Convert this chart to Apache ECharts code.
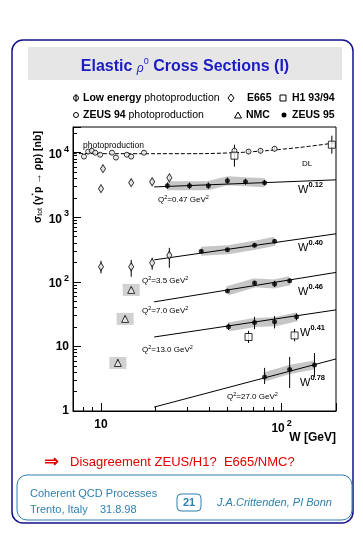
<!DOCTYPE html>
<html><head><meta charset="utf-8">
<script src="https://cdn.jsdelivr.net/npm/echarts@6/dist/echarts.min.js"></script>
<style>html,body{margin:0;padding:0;background:#fff}#c{width:363px;height:535px}</style>
</head><body><div id="c"></div>
<script>
// ---------------- data ----------------
// Low energy photoproduction
const lowW     = [8.05, 8.5, 8.9, 9.3, 9.9, 11.5, 12.1, 13.9, 14.7, 17.3];
const lowSigma = [8700, 10400, 10700, 10000, 9300, 10000, 8400, 9300, 8700, 10000];
const lowLo    = [8100, 9700, 10000, 9300, 8700, 9400, 7700, 8700, 8100, 9400];
const lowHi    = [9300, 11100, 11400, 10700, 9900, 10600, 9100, 9900, 9300, 10600];
// ZEUS 94 photoproduction
const z94W     = [54.8, 65.6, 76.4, 91.4];
const z94Sigma = [10700, 10400, 10700, 11500];
const z94Lo    = [9700, 9500, 9800, 10500];
const z94Hi    = [11800, 11400, 11700, 12600];
// H1 93/94
const h1W      = [54.8, 189.7, 65.6, 118];
const h1Sigma  = [8990, 13300, 14.0, 14.8];
const h1Lo     = [6070, 9650, 11.3, 12.0];
const h1Hi     = [13300, 18350, 17.4, 18.7];
// E665
const e665W     = [10.26, 10, 14.7, 19.2, 23.9, 10, 14.7, 19.2, 23.9];
const e665Sigma = [5650, 2770, 3430, 3550, 4090, 171, 171, 197, 258];
const e665Lo    = [5300, 2600, 3200, 3350, 3800, 135, 120, 154, 165];
const e665Hi    = [6000, 2950, 3650, 3750, 4400, 212, 219, 236, 336];
// NMC
const nmcW     = [14.7, 13.6, 12.4];
const nmcSigma = [75.1, 26.7, 5.55];
const nmcLo    = [68, 24.2, 4.9];
const nmcHi    = [83, 29.4, 6.3];
// ZEUS 95, one list per Q^2 bin
const z95W_047 = [23.3, 30.9, 39.3, 50.1, 63.1, 80.5];
const z95S_047 = [3080, 3080, 3080, 3680, 3550, 3430];
const z95L_047 = [2750, 2750, 2750, 3300, 3200, 3100];
const z95H_047 = [3450, 3450, 3450, 4100, 3950, 3800];
const z95W_35  = [35.9, 50.1, 70.8, 91.4];
const z95S_35  = [297, 313, 368, 425];
const z95L_35  = [280, 295, 345, 395];
const z95H_35  = [315, 332, 392, 460];
const z95W_7   = [50.1, 70.8, 91.4, 110.8];
const z95S_7   = [72.4, 96.4, 93, 104];
const z95L_7   = [69, 90, 83, 96];
const z95H_7   = [76, 103, 104, 113];
const z95W_13  = [50.8, 70.8, 91.4, 121];
const z95S_13  = [20.1, 23.5, 24.0, 28.7];
const z95L_13  = [18.0, 18.5, 19.0, 25.5];
const z95H_13  = [22.5, 28.7, 29.5, 32.5];
const z95W_27  = [80.5, 110.8, 152];
const z95S_27  = [3.37, 4.40, 5.17];
const z95L_27  = [2.62, 2.27, 3.37];
const z95H_27  = [4.65, 6.88, 7.9];
// Donnachie-Landshoff photoproduction curve
const dlW     = [7, 15, 30, 50, 70, 100, 150, 200];
const dlSigma = [9700, 9650, 9650, 9900, 10400, 11300, 12800, 14300];
// Power-law fits W^delta (end points)
const fitW     = [19.7, 200];
const fit047   = [2950, 3800];
const fit35    = [219, 555];
const fit7     = [49, 140];
const fit13    = [14.0, 36.8];
const fit27    = [1.15, 6.4];
// axis
const xMin = 7, xMax = 200, yMin = 1, yMax = 25000;

// ---------------- chart ----------------
const FF = '"Liberation Sans", Arial, Helvetica, sans-serif';
const chart = echarts.init(document.getElementById('c'), null, {renderer: 'canvas'});
const pts = (W, S) => W.map((w, i) => [w, S[i]]);
const err = (W, L, H) => W.map((w, i) => [w, L[i], H[i]]);

function errSeries(data) {
  return {
    type: 'custom', z: 4, silent: true,
    renderItem: function (params, api) {
      const a = api.coord([api.value(0), api.value(1)]);
      const b = api.coord([api.value(0), api.value(2)]);
      return {type: 'line', shape: {x1: a[0], y1: a[1], x2: b[0], y2: b[1]},
              style: {stroke: '#000', lineWidth: 1}};
    },
    data: data
  };
}
function fitLine(S) {
  return {type: 'line', data: pts(fitW, S), symbol: 'none', z: 3, silent: true,
          lineStyle: {color: '#000', width: 1}};
}
function band(W, S) {
  return {type: 'line', data: pts(W, S), symbol: 'none', z: 1, silent: true,
          lineStyle: {color: '#c6c6c6', width: 9, cap: 'butt'}};
}
function openSym(data, symbol, size) {
  return {type: 'scatter', data: data, symbol: symbol, symbolSize: size, z: 6, silent: true,
          itemStyle: {color: '#fff', borderColor: '#000', borderWidth: 1}};
}
function fmt(v) {
  if (Math.abs(v - 1) < 1e-9) return '{b|1}';
  if (Math.abs(v - 10) < 1e-9) return '{b|10}';
  const e = Math.round(Math.log10(v));
  return '{b|10}{s|' + e + '}';
}
const labelRich = {
  b: {fontSize: 12, fontWeight: 'bold', fontFamily: FF, color: '#000', verticalAlign: 'bottom'},
  s: {fontSize: 9, fontWeight: 'bold', fontFamily: FF, color: '#000', verticalAlign: 'bottom', padding: [0, 0, 7, 2]}
};

const z95All = [
  [z95W_047, z95S_047, z95L_047, z95H_047],
  [z95W_35, z95S_35, z95L_35, z95H_35],
  [z95W_7, z95S_7, z95L_7, z95H_7],
  [z95W_13, z95S_13, z95L_13, z95H_13],
  [z95W_27, z95S_27, z95L_27, z95H_27]
];
let z95Points = [], z95Err = [];
z95All.forEach(g => { z95Points = z95Points.concat(pts(g[0], g[1])); z95Err = z95Err.concat(err(g[0], g[2], g[3])); });

const series = [];
z95All.forEach(g => series.push(band(g[0], g[1])));
series.push({type: 'scatter', data: pts(nmcW, nmcSigma), symbol: 'rect', symbolSize: [17, 12], z: 1, silent: true,
             itemStyle: {color: '#c6c6c6'}});
series.push({type: 'line', data: pts(dlW, dlSigma), symbol: 'none', smooth: true, z: 3, silent: true,
             lineStyle: {color: '#000', width: 1, type: [4, 2]}});
[fit047, fit35, fit7, fit13, fit27].forEach(f => series.push(fitLine(f)));
series.push(errSeries(err(lowW, lowLo, lowHi)));
series.push(errSeries(err(z94W, z94Lo, z94Hi)));
series.push(errSeries(err(h1W, h1Lo, h1Hi)));
series.push(errSeries(err(e665W, e665Lo, e665Hi)));
series.push(errSeries(err(nmcW, nmcLo, nmcHi)));
series.push(errSeries(z95Err));
series.push(openSym(pts(lowW, lowSigma), 'circle', 5));
series.push(openSym(pts(z94W, z94Sigma), 'circle', 5));
series.push(openSym(pts(h1W, h1Sigma), 'rect', 7));
series.push(openSym(pts(e665W, e665Sigma), 'diamond', [5, 8]));
series.push(openSym(pts(nmcW, nmcSigma), 'triangle', [7, 7]));
series.push({type: 'scatter', data: z95Points, symbol: 'circle', symbolSize: 5, z: 7, silent: true,
             itemStyle: {color: '#000'}});

// text annotations & slide decoration
const T = (x, y, text, opt) => Object.assign({type: 'text', x: x, y: y, silent: true,
  style: Object.assign({text: text, fontFamily: FF, fontSize: 10.5, fill: '#000', align: 'left', verticalAlign: 'middle'}, opt || {})});
const blue = '#12128c', teal = '#2f7fae', titleBlue = '#1c1cc4';
const wLab = (x, y, e) => T(x, y, '{w|W}{e|' + e + '}', {rich: {
  w: {fontSize: 11, fontFamily: FF, verticalAlign: 'bottom'},
  e: {fontSize: 7.5, fontWeight: 'bold', fontFamily: FF, verticalAlign: 'bottom', padding: [0, 0, 6, 0]}}});
const qLab = (x, y, q) => T(x, y, '{a|Q}{s|2}{a|=' + q + ' GeV}{s|2}', {rich: {
  a: {fontSize: 8, fontFamily: FF, verticalAlign: 'bottom'},
  s: {fontSize: 5.5, fontFamily: FF, verticalAlign: 'bottom', padding: [0, 0, 4, 0]}}});

const graphic = [
  {type: 'rect', shape: {x: 12, y: 40, width: 341, height: 483, r: 11}, silent: true, z: -10,
   style: {fill: 'none', stroke: blue, lineWidth: 1.5}},
  {type: 'rect', shape: {x: 28, y: 47, width: 314, height: 33}, silent: true, z: -9,
   style: {fill: '#e6e6e6'}},
  T(185, 66, '{t|Elastic }{r|ρ}{z|0}{t| Cross Sections (I)}', {align: 'center', rich: {
    t: {fontSize: 16, fontWeight: 'bold', fontFamily: FF, fill: titleBlue, verticalAlign: 'bottom'},
    r: {fontSize: 12, fontStyle: 'italic', fontFamily: FF, fill: titleBlue, verticalAlign: 'bottom'},
    z: {fontSize: 9, fontFamily: FF, fill: titleBlue, verticalAlign: 'bottom', padding: [0, 0, 9, 0]}}}),
  // legend row 1
  {type: 'circle', shape: {cx: 76, cy: 98, r: 2.5}, style: {fill: '#fff', stroke: '#000', lineWidth: 1}},
  {type: 'line', shape: {x1: 76, y1: 94, x2: 76, y2: 102}, style: {stroke: '#000', lineWidth: 1}},
  T(83, 98, '{b|Low energy} photoproduction', {rich: {b: {fontWeight: 'bold', fontSize: 10.5, fontFamily: FF}}}),
  {type: 'polygon', shape: {points: [[231, 94], [234, 98], [231, 102], [228, 98]]}, style: {fill: '#fff', stroke: '#000', lineWidth: 1}},
  T(247, 98, 'E665', {fontWeight: 'bold'}),
  {type: 'rect', shape: {x: 280, y: 95, width: 6, height: 6}, style: {fill: '#fff', stroke: '#000', lineWidth: 1}},
  T(292, 98, 'H1 93/94', {fontWeight: 'bold'}),
  // legend row 2
  {type: 'circle', shape: {cx: 76, cy: 115, r: 2.5}, style: {fill: '#fff', stroke: '#000', lineWidth: 1}},
  T(83, 115, '{b|ZEUS 94} photoproduction', {rich: {b: {fontWeight: 'bold', fontSize: 10.5, fontFamily: FF}}}),
  {type: 'polygon', shape: {points: [[238, 112], [241.5, 118], [234.5, 118]]}, style: {fill: '#fff', stroke: '#000', lineWidth: 1}},
  T(246, 115, 'NMC', {fontWeight: 'bold'}),
  {type: 'circle', shape: {cx: 284, cy: 115, r: 2.5}, style: {fill: '#000'}},
  T(292, 115, 'ZEUS 95', {fontWeight: 'bold'}),
  // y-axis title
  {type: 'text', x: 37, y: 177, rotation: Math.PI / 2, silent: true, style: {
    text: '{a|σ}{s|tot}{a| (γ}{u|*}{a|p → ρp) [nb]}', align: 'center', verticalAlign: 'middle',
    rich: {a: {fontSize: 10.5, fontWeight: 'bold', fontFamily: FF, verticalAlign: 'bottom'},
           s: {fontSize: 7, fontFamily: FF, verticalAlign: 'bottom', padding: [0, 0, 0, 0]},
           u: {fontSize: 7, fontFamily: FF, verticalAlign: 'bottom', padding: [0, 0, 6, 0]}}}},
  T(336, 438, 'W [GeV]', {align: 'right', fontWeight: 'bold', fontSize: 12}),
  // plot annotations
  T(83, 146, 'photoproduction', {fontSize: 8.5}),
  T(302, 164, 'DL', {fontSize: 8}),
  qLab(158, 199, '0.47'), wLab(298, 188, '0.12'),
  qLab(142, 280, '3.5'),  wLab(298, 246, '0.40'),
  qLab(142, 310, '7.0'),  wLab(298, 290, '0.46'),
  qLab(142, 349, '13.0'), wLab(300, 331, '0.41'),
  qLab(227, 396, '27.0'), wLab(300, 381, '0.78'),
  // conclusion
  T(44, 462, '⇒', {fontSize: 18, fill: '#e00000', fontFamily: '"DejaVu Sans", sans-serif', fontWeight: 'bold'}),
  T(70, 462, 'Disagreement ZEUS/H1?  E665/NMC?', {fontSize: 13, fill: '#e00000'}),
  // footer
  {type: 'rect', shape: {x: 17, y: 475, width: 335, height: 45, r: 10}, silent: true,
   style: {fill: 'none', stroke: teal, lineWidth: 1}},
  T(30, 494, 'Coherent QCD Processes', {fontSize: 11, fill: teal}),
  T(30, 510, 'Trento, Italy    31.8.98', {fontSize: 11, fill: teal}),
  {type: 'rect', shape: {x: 177, y: 494, width: 24, height: 17, r: 4}, silent: true,
   style: {fill: 'none', stroke: teal, lineWidth: 1}},
  T(189, 503, '21', {fontSize: 11, fill: teal, align: 'center', fontWeight: 'bold'}),
  T(217, 503, 'J.A.Crittenden, PI Bonn', {fontSize: 11, fill: teal, fontStyle: 'italic'})
];

chart.setOption({
  animation: false,
  backgroundColor: '#fff',
  grid: {left: 73, top: 127, width: 263, height: 284, show: true, borderColor: '#000', borderWidth: 1, backgroundColor: 'transparent'},
  xAxis: {
    type: 'log', logBase: 10, min: xMin, max: xMax,
    axisLine: {lineStyle: {color: '#000', width: 1}},
    axisTick: {inside: true, length: 8, lineStyle: {color: '#000'}},
    minorTick: {show: true, splitNumber: 9, length: 4, lineStyle: {color: '#000'}},
    splitLine: {show: false}, minorSplitLine: {show: false},
    axisLabel: {formatter: fmt, rich: labelRich, margin: 8, showMinLabel: false, showMaxLabel: false}
  },
  yAxis: {
    type: 'log', logBase: 10, min: yMin, max: yMax,
    axisLine: {lineStyle: {color: '#000', width: 1}},
    axisTick: {inside: true, length: 8, lineStyle: {color: '#000'}},
    minorTick: {show: true, splitNumber: 9, length: 4, lineStyle: {color: '#000'}},
    splitLine: {show: false}, minorSplitLine: {show: false},
    axisLabel: {formatter: fmt, rich: labelRich, margin: 4, showMaxLabel: false}
  },
  series: series,
  graphic: graphic
});
</script>
</body></html>
